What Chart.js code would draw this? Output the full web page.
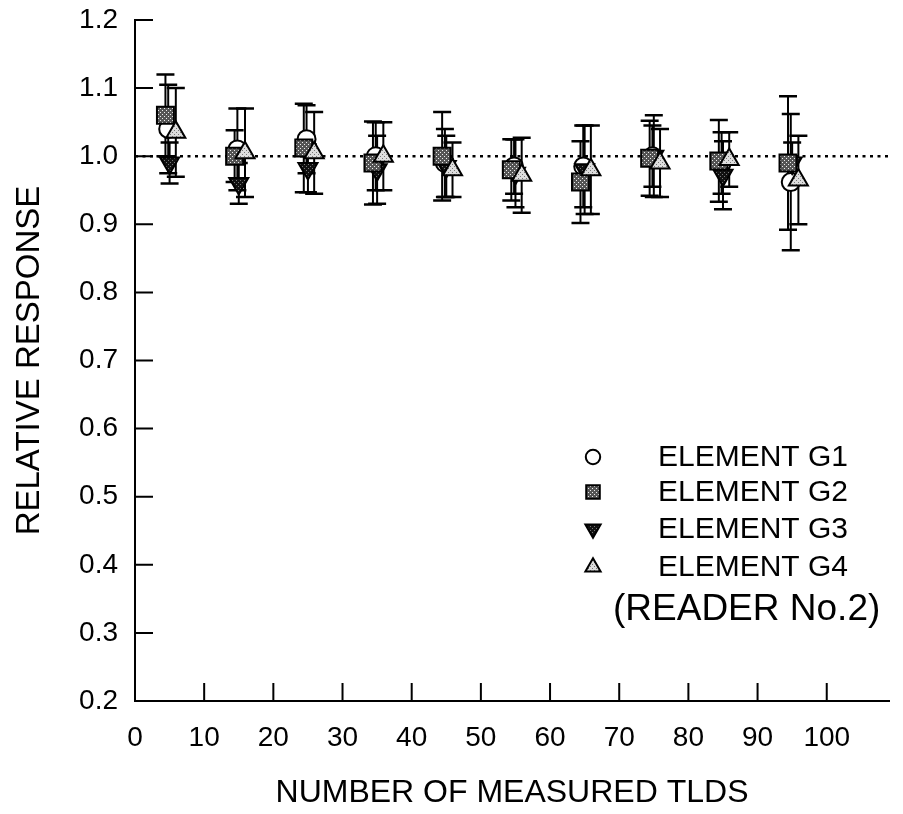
<!DOCTYPE html>
<html><head><meta charset="utf-8">
<script src="https://cdn.jsdelivr.net/npm/chart.js@4/dist/chart.umd.min.js"></script>
<style>html,body{margin:0;padding:0;background:#fff}#wrap{width:903px;height:814px}</style>
</head><body><div id="wrap"><canvas id="c" width="903" height="814"></canvas></div>
<script>
// ---- data ----
const xCategories = [5, 15, 25, 35, 45, 55, 65, 75, 85, 95];
const seriesNames = ['ELEMENT G1', 'ELEMENT G2', 'ELEMENT G3', 'ELEMENT G4'];
const g1Values = [1.040, 1.010, 1.025, 1.000, 0.990, 0.985, 0.985, 1.000, 0.990, 0.962];
const g1Errors = [0.065, 0.060, 0.050, 0.050, 0.050, 0.040, 0.060, 0.045, 0.045, 0.100];
const g2Values = [1.060, 1.000, 1.012, 0.990, 1.000, 0.980, 0.962, 0.997, 0.993, 0.990];
const g2Errors = [0.060, 0.038, 0.065, 0.061, 0.065, 0.045, 0.060, 0.055, 0.060, 0.098];
const g3Values = [0.990, 0.960, 0.982, 0.980, 0.985, 0.975, 0.980, 1.000, 0.972, 0.990];
const g3Errors = [0.030, 0.030, 0.035, 0.050, 0.045, 0.050, 0.065, 0.060, 0.050, 0.030];
const g4Values = [1.035, 1.005, 1.005, 1.000, 0.980, 0.972, 0.980, 0.990, 0.995, 0.965];
const g4Errors = [0.065, 0.065, 0.060, 0.050, 0.040, 0.055, 0.065, 0.050, 0.040, 0.065];
const xTickValues = [0, 10, 20, 30, 40, 50, 60, 70, 80, 90, 100];
const yTickValues = [0.2, 0.3, 0.4, 0.5, 0.6, 0.7, 0.8, 0.9, 1.0, 1.1, 1.2];
const referenceValue = 1.0;
const noteText = '(READER No.2)';
const xTitle = 'NUMBER OF MEASURED TLDS';
const yTitle = 'RELATIVE RESPONSE';

// ---- styling helpers ----
const canvas = document.getElementById('c');
const ctx0 = canvas.getContext('2d');
function makePattern(bg, fg) {
  const c = document.createElement('canvas'); c.width = 4; c.height = 4;
  const x = c.getContext('2d');
  x.fillStyle = bg; x.fillRect(0, 0, 4, 4);
  x.fillStyle = fg; x.fillRect(0, 0, 1, 1); x.fillRect(2, 2, 1, 1);
  return ctx0.createPattern(c, 'repeat');
}
const sqFill = makePattern('#555', '#eee');
const triFill = makePattern('#ddd', '#777');
const invFill = makePattern('#111', '#777');
const FONT = "'Liberation Sans', Arial, sans-serif";

function pts(vals, off) { return xCategories.map((x, i) => ({x: x + off, y: vals[i]})); }

const datasets = [
  {label: seriesNames[3], data: pts(g4Values, 0.9), errors: g4Errors, pointStyle: 'triangle', pointRadius: 11, backgroundColor: triFill, borderColor: '#000', borderWidth: 2, order: 1},
  {label: seriesNames[1], data: pts(g2Values, -0.6), errors: g2Errors, pointStyle: 'rect', pointRadius: 12, backgroundColor: sqFill, borderColor: '#000', borderWidth: 2, order: 2},
  {label: seriesNames[2], data: pts(g3Values, 0), errors: g3Errors, pointStyle: 'triangle', pointRotation: 180, pointRadius: 11, backgroundColor: invFill, borderColor: '#000', borderWidth: 2, order: 3},
  {label: seriesNames[0], data: pts(g1Values, -0.2), errors: g1Errors, pointStyle: 'circle', pointRadius: 9, backgroundColor: '#fff', borderColor: '#000', borderWidth: 2, order: 4},
  {type: 'line', label: 'ref', data: [{x: 0, y: referenceValue}, {x: 109, y: referenceValue}], borderColor: '#000', borderWidth: 2.5, borderDash: [3, 4.5], pointRadius: 0, fill: false, order: 5, isRef: true}
];
const legendOrder = [3, 1, 2, 0];

const errorBars = {
  id: 'errorBars',
  beforeDatasetsDraw(chart) {
    const ctx = chart.ctx, ys = chart.scales.y;
    ctx.save(); ctx.strokeStyle = '#000';
    chart.data.datasets.forEach((ds, di) => {
      if (!ds.errors) return;
      const meta = chart.getDatasetMeta(di);
      meta.data.forEach((el, i) => {
        const v = ds.data[i].y, e = ds.errors[i];
        const yt = ys.getPixelForValue(v + e), yb = ys.getPixelForValue(v - e), x = el.x;
        ctx.lineWidth = 2;
        ctx.beginPath(); ctx.moveTo(x, yt); ctx.lineTo(x, yb); ctx.stroke();
        ctx.lineWidth = 2.5;
        ctx.beginPath(); ctx.moveTo(x - 9, yt); ctx.lineTo(x + 9, yt);
        ctx.moveTo(x - 9, yb); ctx.lineTo(x + 9, yb); ctx.stroke();
      });
    });
    ctx.restore();
  }
};

const inwardTicks = {
  id: 'inwardTicks',
  afterDraw(chart) {
    const ctx = chart.ctx, xs = chart.scales.x, ys = chart.scales.y, a = chart.chartArea;
    ctx.save(); ctx.strokeStyle = '#000'; ctx.lineWidth = 2;
    ctx.beginPath();
    xs.ticks.forEach(t => { if (t.value === 0) return; const px = xs.getPixelForValue(t.value); ctx.moveTo(px, a.bottom); ctx.lineTo(px, a.bottom - 18); });
    ys.ticks.forEach(t => { if (t.value <= 0.2) return; const py = ys.getPixelForValue(t.value); ctx.moveTo(a.left, py); ctx.lineTo(a.left + 18, py); });
    ctx.stroke(); ctx.restore();
  }
};

const innerLegend = {
  id: 'innerLegend',
  afterDraw(chart) {
    const ctx = chart.ctx, a = chart.chartArea;
    const rowY = [437, 472, 509, 547];
    ctx.save();
    ctx.fillStyle = '#000'; ctx.textBaseline = 'middle'; ctx.textAlign = 'left';
    ctx.font = '30px ' + FONT;
    legendOrder.forEach((di, r) => {
      const ds = chart.data.datasets[di];
      const y = a.top + rowY[r];
      ctx.save();
      ctx.fillStyle = ds.backgroundColor; ctx.strokeStyle = '#000'; ctx.lineWidth = 2;
      Chart.helpers.drawPoint(ctx, {pointStyle: ds.pointStyle, rotation: ds.pointRotation || 0, radius: ds.pointRadius * 0.8, borderWidth: 2}, a.left + 458, y);
      ctx.restore();
      ctx.fillText(ds.label, a.left + 523, y + 1);
    });
    ctx.font = '37px ' + FONT;
    ctx.fillText(noteText, a.left + 478, a.top + 590);
    ctx.restore();
  }
};

new Chart(canvas, {
  type: 'scatter',
  data: {datasets},
  options: {
    responsive: false, animation: false, devicePixelRatio: 1,
    layout: {padding: {top: 20, right: -6, left: 0, bottom: 0}},
    plugins: {legend: {display: false}, tooltip: {enabled: false}},
    scales: {
      x: {
        type: 'linear', min: 0, max: 109,
        afterBuildTicks: s => { s.ticks = xTickValues.map(v => ({value: v})); },
        afterFit: s => { s.height = 113; s.paddingLeft = 0; s.paddingRight = 0; },
        grid: {display: false, drawTicks: false},
        border: {display: true, color: '#000', width: 2},
        ticks: {color: '#000', font: {family: FONT, size: 28}, padding: 20, maxRotation: 0},
        title: {display: true, text: xTitle, color: '#000', font: {family: FONT, size: 32}, padding: {top: 0, bottom: 2}}
      },
      y: {
        type: 'linear', min: 0.2, max: 1.2,
        afterBuildTicks: s => { s.ticks = yTickValues.map(v => ({value: v})); },
        afterFit: s => { s.width = 135; s.paddingTop = 0; s.paddingBottom = 0; },
        grid: {display: false, drawTicks: false},
        border: {display: true, color: '#000', width: 2},
        ticks: {color: '#000', font: {family: FONT, size: 28}, padding: 17, callback: v => Number(v).toFixed(1)},
        title: {display: true, text: yTitle, color: '#000', font: {family: FONT, size: 33}, padding: {top: 10, bottom: 0}}
      }
    }
  },
  plugins: [errorBars, inwardTicks, innerLegend]
});
</script></body></html>
